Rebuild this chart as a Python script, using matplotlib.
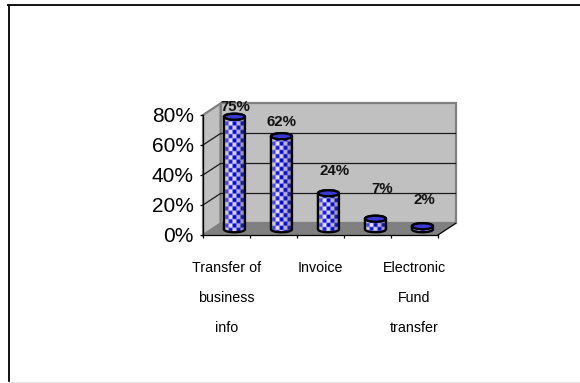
import numpy as np
import matplotlib
matplotlib.use("Agg")
import matplotlib.pyplot as plt
from matplotlib.lines import Line2D
from matplotlib.patches import Polygon, PathPatch, Ellipse
from matplotlib.path import Path

plt.rcParams['font.family'] = ['Liberation Sans', 'DejaVu Sans']

# Survey shares, one cylinder per item
values = [75, 62, 24, 7, 2]
shown_labels = ["Transfer of\nbusiness\ninfo", "Invoice", "Electronic\nFund\ntransfer"]
shown_slots = [0, 2, 4]
percent_ticks = [0, 20, 40, 60, 80]

W, H, DPI = 580, 383, 100
X0, X1, Y_BASE, Y_TOP = 203, 438, 235, 115

fig = plt.figure(figsize=(W / DPI, H / DPI), dpi=DPI, facecolor="white")
ax = fig.add_axes([X0 / W, 1 - Y_BASE / H, (X1 - X0) / W, (Y_BASE - Y_TOP) / H])
ax.set_xlim(0, 5)
ax.set_ylim(0, 80)
ax.patch.set_visible(False)

px_x = 5 / (X1 - X0)   # category units per pixel
px_y = 80 / (Y_BASE - Y_TOP)   # percent per pixel
DX, DY = 17.5 * px_x, 11.5 * px_y

# Chart box walls and floor
wall = "#c0c0c0"
edge = "#808080"
ax.add_patch(Polygon([(DX, DY), (5 + DX, DY), (5 + DX, 80 + DY), (DX, 80 + DY)],
                     fc=wall, ec=edge, lw=1.6, clip_on=False, zorder=1))
ax.add_patch(Polygon([(0, 0), (DX, DY), (DX, 80 + DY), (0, 80)],
                     fc=wall, ec=edge, lw=1.6, clip_on=False, zorder=1))
ax.add_patch(Polygon([(0, 0), (5, 0), (5 + DX, DY), (DX, DY)],
                     fc=edge, ec="none", clip_on=False, zorder=1.5))
for t in percent_ticks[1:-1]:
    ax.plot([0, DX, 5 + DX], [t, t + DY, t + DY], color="#1a1a1a", lw=0.9,
            clip_on=False, zorder=2)
ax.plot([5, 5 + DX], [0, DY], color="black", lw=0.9, clip_on=False, zorder=2)


def texture(w_px, h_px):
    """Chequered blue and pale grey weave, shaded around the cylinder."""
    ss = 4
    xs = (np.arange(int(w_px * ss)) + 0.5) / ss
    ys = (np.arange(int(h_px * ss)) + 0.5) / ss
    u, v = np.meshgrid(xs, ys)
    p, q = 4.0, 4.3
    cell = np.sin(np.pi * (u - 0.5) / p) * np.sin(np.pi * v / q)
    mask = np.clip(cell * 1.9 + 0.45, 0, 1)[..., None]
    t = (u / w_px)[..., None]
    pale = np.interp(t, [0, 0.35, 0.6, 1], [0.72, 0.93, 0.78, 0.55])
    blue_r = np.interp(t, [0, 0.25, 0.5, 1], [0.42, 0.12, 0.0, 0.12])
    blue_b = np.interp(t, [0, 0.6, 1], [1.0, 0.95, 0.62])
    ink = np.concatenate([blue_r, blue_r, blue_b], axis=2)
    paper = np.concatenate([pale, pale, pale], axis=2)
    return np.clip(mask * ink + (1 - mask) * paper, 0, 1)


BAR_W = 21 * px_x
ELL_H = 6 * px_y
BASE = 0.5 * DY
angles = np.linspace(0, np.pi, 40)

for i, val in enumerate(values):
    cx = i + 0.5 + 0.5 * DX - 0.8 * px_x
    top = BASE + val
    rx, ry = BAR_W / 2, ELL_H / 2
    # Cylinder outline: lower front arc, then upper back arc
    low = np.column_stack([cx - rx * np.cos(angles), BASE - ry * np.sin(angles)])
    up = np.column_stack([cx + rx * np.cos(angles), top + ry * np.sin(angles)])
    verts = np.vstack([low, up, low[:1]])
    body = PathPatch(Path(verts), fc="none", ec="black", lw=1.7, clip_on=False, zorder=4.2)
    ax.add_patch(body)
    h_px = (val + ELL_H) / px_y + 2
    img = ax.imshow(texture(21, h_px), extent=[cx - rx, cx + rx, BASE - ry, top + ry],
                    aspect="auto", interpolation="bilinear", zorder=4, clip_on=True)
    img.set_clip_path(PathPatch(Path(verts), transform=ax.transData))
    # Open cap of the cylinder
    cap = Ellipse((cx, top), 2 * rx, 2 * ry, fc="#3a3ad8", ec="black", lw=1.7,
                  clip_on=False, zorder=4.4)
    ax.add_patch(cap)

ax.set_xlim(0, 5)
ax.set_ylim(0, 80)

# Data labels, nudged clear of the cylinders
label_dx = [0.5, 0.5, 6.5, 6.5, 2]
label_dy = [9.5, 14.5, 22.5, 30, 26.5]
for i, val in enumerate(values):
    cx = i + 0.5 + 0.5 * DX - 0.8 * px_x
    ax.annotate(f"{val}%", xy=(cx, BASE + val), xytext=(label_dx[i] * 0.72, label_dy[i] * 0.72),
                textcoords="offset points", ha="center", va="center",
                fontsize=10.8, fontweight="bold", color="#111111", zorder=6,
                annotation_clip=False)

# Axes, ticks and labels
for name in ("top", "right"):
    ax.spines[name].set_visible(False)
for name in ("left", "bottom"):
    ax.spines[name].set_linewidth(0.9)
    ax.spines[name].set_zorder(3)
ax.set_yticks(percent_ticks)
ax.set_yticklabels([f"{t}%" for t in percent_ticks], fontsize=15)
ax.tick_params(axis="y", length=2.5, width=0.9, pad=4)
ax.set_xticks(range(6))
ax.set_xticklabels([])
ax.tick_params(axis="x", which="major", length=2.5, width=0.9)
ax.set_xticks([s + 0.5 for s in shown_slots], minor=True)
ax.set_xticklabels(shown_labels, minor=True, fontsize=10.3, linespacing=2.42, va="top")
ax.tick_params(axis="x", which="minor", length=0, pad=19)

# Frame around the chart object
fig.add_artist(Line2D([8.5 / W, 8.5 / W], [0, 1 - 4.5 / H], color="#111111", lw=1.4))
fig.add_artist(Line2D([8 / W, 1], [1 - 4.5 / H, 1 - 4.5 / H], color="#111111", lw=1.4))
fig.add_artist(Line2D([8 / W, 1], [1 - 381.5 / H, 1 - 381.5 / H], color="#e8e8e8", lw=1.0))

fig.savefig("out.png", dpi=DPI)
